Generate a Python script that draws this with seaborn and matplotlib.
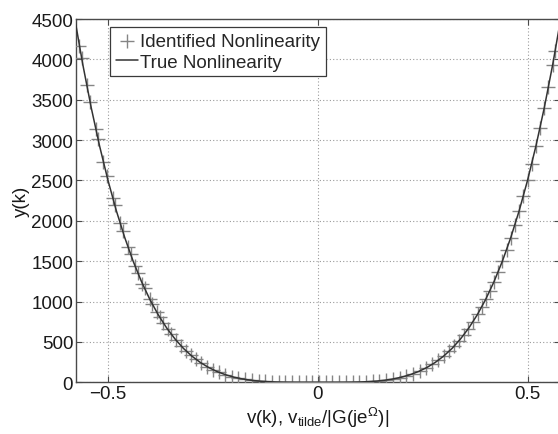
import matplotlib
matplotlib.use("Agg")
import matplotlib.pyplot as plt
import seaborn as sns
import pandas as pd

# Identified nonlinearity (markers)
ident_x = [-0.568, -0.563, -0.551, -0.543, -0.529, -0.524, -0.511, -0.503, -0.489, -0.484,
           -0.471, -0.465, -0.452, -0.446, -0.436, -0.429, -0.418, -0.413, -0.401, -0.395,
           -0.384, -0.377, -0.368, -0.358, -0.349, -0.338, -0.326, -0.314, -0.302, -0.290,
           -0.278, -0.264, -0.250, -0.236, -0.221, -0.205, -0.189, -0.173, -0.157, -0.141,
           -0.125, -0.109, -0.093, -0.077, -0.061, -0.045, -0.029, -0.013,
           0.003, 0.019, 0.035, 0.051, 0.067, 0.083, 0.099, 0.115, 0.131, 0.147,
           0.163, 0.179, 0.195, 0.211, 0.227, 0.243, 0.259, 0.273, 0.287, 0.300,
           0.313, 0.325, 0.337, 0.348, 0.359, 0.370, 0.381, 0.391, 0.401, 0.410,
           0.420, 0.430, 0.440, 0.450, 0.460, 0.470, 0.480, 0.490, 0.500, 0.510,
           0.520, 0.530, 0.540, 0.550, 0.560, 0.566]
ident_y = [4163, 4019, 3687, 3478, 3132, 3016, 2727, 2561, 2287, 2195,
           1969, 1870, 1670, 1583, 1445, 1355, 1221, 1164, 1034, 974,
           870, 808, 734, 657, 593, 522, 452, 389, 333, 283,
           239, 194, 156, 124, 95, 71, 51, 36, 24, 16,
           10, 6, 3, 1, 1, 0, 0, 0,
           0, 0, 0, 0, 1, 2, 4, 7, 12, 19,
           28, 41, 58, 79, 106, 139, 180, 222, 271, 324,
           384, 446, 516, 587, 664, 750, 843, 935, 1034, 1130,
           1245, 1368, 1499, 1640, 1791, 1952, 2123, 2306, 2500, 2706,
           2925, 3156, 3401, 3660, 3934, 4105]

# True nonlinearity (line)
true_x = [-0.58, -0.56, -0.54, -0.52, -0.50, -0.48, -0.46, -0.44, -0.42, -0.40,
          -0.38, -0.36, -0.34, -0.32, -0.30, -0.28, -0.26, -0.24, -0.22, -0.20,
          -0.18, -0.16, -0.14, -0.12, -0.10, -0.08, -0.06, -0.04, -0.02, 0.00,
          0.02, 0.04, 0.06, 0.08, 0.10, 0.12, 0.14, 0.16, 0.18, 0.20,
          0.22, 0.24, 0.26, 0.28, 0.30, 0.32, 0.34, 0.36, 0.38, 0.40,
          0.42, 0.44, 0.46, 0.48, 0.50, 0.52, 0.54, 0.56, 0.58]
true_y = [4527, 3934, 3401, 2925, 2500, 2123, 1791, 1499, 1245, 1024,
          834, 672, 535, 419, 324, 246, 183, 133, 94, 64,
          42, 26, 15, 8, 4, 1.6, 0.5, 0.1, 0, 0,
          0, 0.1, 0.5, 1.6, 4, 8, 15, 26, 42, 64,
          94, 133, 183, 246, 324, 419, 535, 672, 834, 1024,
          1245, 1499, 1791, 2123, 2500, 2925, 3401, 3934, 4527]

x_ticks = [-0.5, 0, 0.5]
x_tick_labels = ["\u22120.5", "0", "0.5"]
y_ticks = [0, 500, 1000, 1500, 2000, 2500, 3000, 3500, 4000, 4500]

sns.set_style("whitegrid")
plt.rcParams['font.family'] = ['Liberation Sans', 'DejaVu Sans']
plt.rcParams['mathtext.fontset'] = 'custom'
plt.rcParams['mathtext.rm'] = 'Liberation Sans'
plt.rcParams['mathtext.it'] = 'Liberation Sans'

FS = 13.5
fig = plt.figure(figsize=(5.58, 4.35), dpi=100)
W, H = 558, 435
left, right, top, bottom = 76, 559.5, 20, 383.3
ax = fig.add_axes([left / W, 1 - bottom / H, (right - left) / W, (bottom - top) / H])

df_id = pd.DataFrame({"x": ident_x, "y": ident_y})
df_true = pd.DataFrame({"x": true_x, "y": true_y})

sns.scatterplot(data=df_id, x="x", y="y", marker="+", s=100, color="#858585",
                linewidth=1.0, label="Identified Nonlinearity", ax=ax, zorder=3)
sns.lineplot(data=df_true, x="x", y="y", color="#333333", linewidth=1.1,
             label="True Nonlinearity", ax=ax, zorder=4, sort=False)

ax.set_xlim(-0.5763, (right - left) / 419.5 - 0.5763)
ax.set_ylim(0, 4500)
ax.set_xticks(x_ticks)
ax.set_xticklabels(x_tick_labels)
ax.set_yticks(y_ticks)

ax.grid(True, linestyle=(0, (1, 2)), color="#9a9a9a", linewidth=0.8)
ax.tick_params(direction="in", length=4, width=0.8, colors="#4a4a4a",
               labelcolor="#1a1a1a", labelsize=FS, top=True, right=True,
               bottom=True, left=True, pad=2)
for s in ax.spines.values():
    s.set_color("#4a4a4a")
    s.set_linewidth(1.0)

ax.set_xlabel(r"v(k), v$_{\mathrm{tilde}}$/|G(je$^{\Omega}$)|", fontsize=FS,
              color="#1a1a1a", labelpad=2)
ax.set_ylabel("y(k)", fontsize=FS, color="#1a1a1a", labelpad=1)

leg = ax.legend(loc="upper left",
                bbox_to_anchor=(34 / (right - left), 1 - 8 / (bottom - top)),
                fontsize=FS, frameon=True, fancybox=False, borderpad=0.3,
                handlelength=1.2, handletextpad=0.1, labelspacing=0.2,
                borderaxespad=0.0)
leg.get_frame().set_edgecolor("#3a3a3a")
leg.get_frame().set_linewidth(0.9)
leg.get_frame().set_alpha(1.0)

fig.savefig("out.png", dpi=100)
